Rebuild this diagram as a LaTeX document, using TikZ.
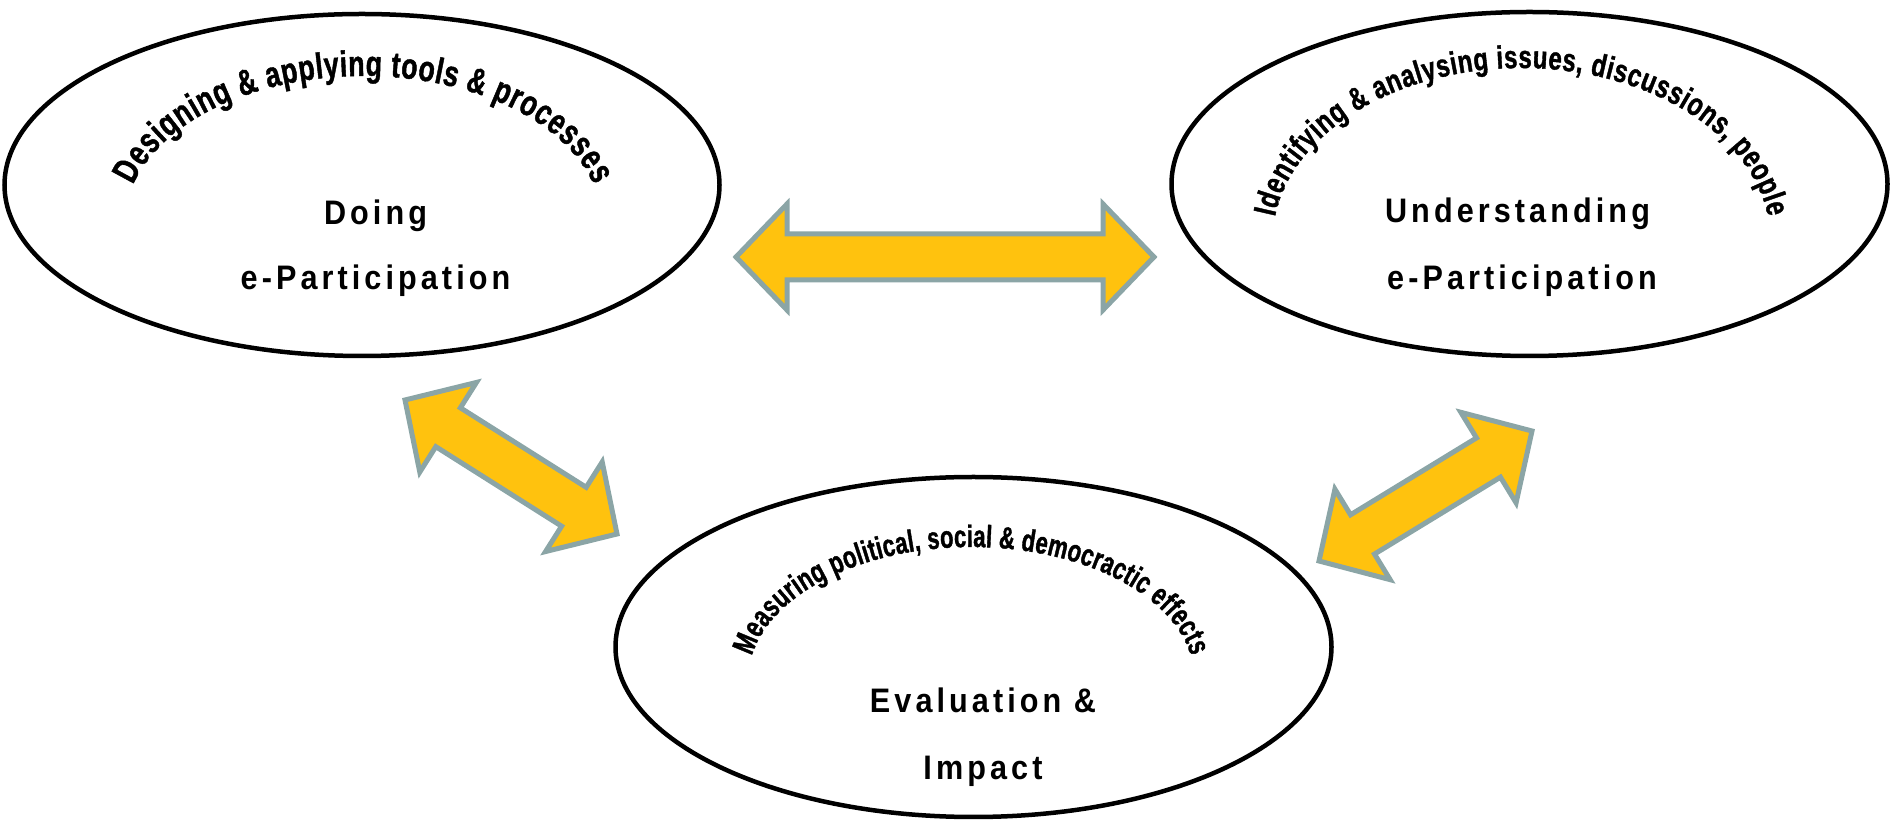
\documentclass[tikz,border=0pt]{standalone}
\usepackage{fontspec}
\setmainfont{Liberation Sans}
\newfontfamily\lblfont[LetterSpace=12,FakeStretch=0.9]{Liberation Sans}
\newfontfamily\arcfontA[FakeStretch=0.74,FakeBold=1.2]{Liberation Sans Bold}
\newfontfamily\arcfontB[FakeStretch=0.75,FakeBold=1.2]{Liberation Sans Bold}
\newfontfamily\arcfontC[FakeStretch=0.71,FakeBold=1.2]{Liberation Sans Bold}
\usetikzlibrary{shapes.geometric,calc,decorations.text}
\definecolor{arrowfill}{RGB}{255,194,14}
\definecolor{arrowedge}{RGB}{139,165,166}
\tikzset{
  ell/.style={draw, line width=4.5pt, ellipse, inner sep=0pt},
  lbl/.style={anchor=base, inner sep=0pt, font=\lblfont\bfseries\fontsize{34}{40}\selectfont},
  blockarrow/.style={fill=arrowfill, draw=arrowedge, line width=5pt, line join=miter},
}
\newcommand\dblarrow[3]{%
  \coordinate (#3ha) at ($(#1)!51pt!(#2)$);
  \coordinate (#3hb) at ($(#2)!51pt!(#1)$);
  \draw[blockarrow] (#1)
    -- ($(#3ha)!53pt!90:(#2)$) -- ($(#3ha)!23pt!90:(#2)$)
    -- ($(#3hb)!23pt!-90:(#1)$) -- ($(#3hb)!53pt!-90:(#1)$)
    -- (#2)
    -- ($(#3hb)!53pt!90:(#1)$) -- ($(#3hb)!23pt!90:(#1)$)
    -- ($(#3ha)!23pt!-90:(#2)$) -- ($(#3ha)!53pt!-90:(#2)$)
    -- cycle;
}
\begin{document}
\begin{tikzpicture}[x=1pt,y=1pt]
\useasboundingbox (0,0) rectangle (1891,822);

% ellipses
\node[ell, minimum width=715pt, minimum height=342pt] (doing) at (362,637) {};
\node[ell, minimum width=716pt, minimum height=344pt] (underst) at (1529.5,638) {};
\node[ell, minimum width=716pt, minimum height=340pt] (eval) at (973.5,175) {};

% main labels
\node[lbl] (doing1) at (375.5,597) {Doing};
\node[lbl] (doing2) at (375.5,532) {e-Participation};
\node[lbl] (und1) at (1517.5,599) {Understanding};
\node[lbl] (und2) at (1522,532) {e-Participation};
\node[lbl] (eval1) at (983,109) {Evaluation \&};
\node[lbl] (eval2) at (983,42) {Impact};

% curved texts
\path[decorate, decoration={text along path, text align={fit to path},
  text={|\arcfontA\fontsize{36}{36}\selectfont|Designing {\&} applying tools {\&} processes}}]
  ($(363.5,599)+(165:238.6 and 147)$) arc[start angle=165, end angle=15, x radius=238.6, y radius=147];
\path[decorate, decoration={text along path, text align={fit to path},
  text={|\arcfontB\fontsize{32}{32}\selectfont|Identifying {\&} analysing issues, discussions, people}}]
  ($(1521.5,581)+(172:249 and 173)$) arc[start angle=172, end angle=8, x radius=249, y radius=173];
\path[decorate, decoration={text along path, text align={fit to path},
  text={|\arcfontC\fontsize{31}{31}\selectfont|Measuring political, social {\&} democractic effects}}]
  ($(971.5,143)+(170:223 and 132)$) arc[start angle=170, end angle=10, x radius=223, y radius=132];

% block arrows
\coordinate (h1) at (736,565);
\coordinate (h2) at (1154,565);
\coordinate (d1) at (405,422);
\coordinate (d2) at (617,288);
\coordinate (e1) at (1319,261);
\coordinate (e2) at (1532,391);
\dblarrow{h1}{h2}{ah}
\dblarrow{d1}{d2}{ad}
\dblarrow{e1}{e2}{ae}
\end{tikzpicture}
\end{document}
